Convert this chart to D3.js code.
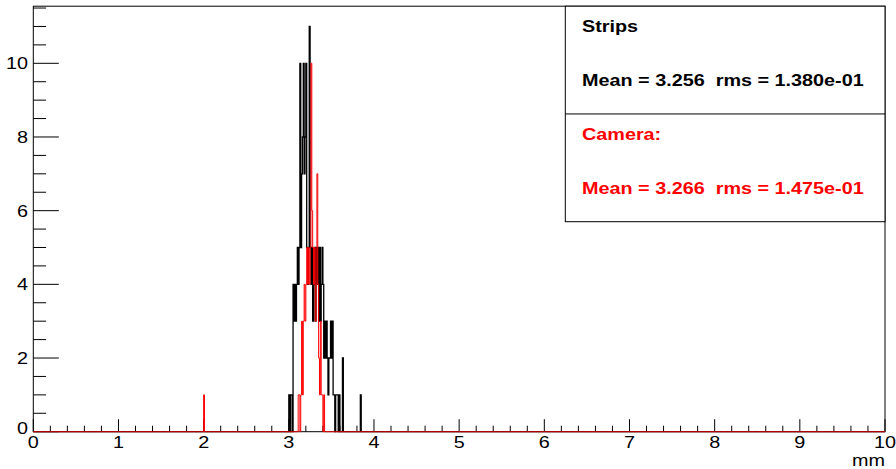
<!DOCTYPE html>
<html>
<head>
<meta charset="utf-8">
<script src="https://cdn.jsdelivr.net/npm/d3@7"></script>
<style>
  html, body { margin: 0; padding: 0; background: #fff; }
  svg { display: block; font-family: "Liberation Sans", Arial, Helvetica, sans-serif; }
  text { white-space: pre; }
</style>
</head>
<body>
<svg id="chart" width="896" height="469"></svg>
<script>
// histogram binning (1000 bins of 0.01 mm on 0..10)
const xMin = 0, xMax = 10, binWidth = 0.01;
const yMax = 11.55;

// Strips: counts per bin starting at 3.00 mm
const stripsFirstBin = 3.00;
const stripsCounts = [
  1, 0, 1, 1, 0, 4, 3, 4, 3, 4,
  5, 4, 5, 10, 5, 7, 8, 10, 7, 8,
  10, 5, 4, 5, 11, 5, 4, 5, 3, 4,
  5, 3, 5, 4, 5, 3, 5, 3, 4, 5,
  4, 2, 3, 2, 3, 2, 1, 2, 2, 3,
  2, 3, 1, 1, 0, 1, 1, 1, 0, 1,
  0, 0, 0, 2, 0, 0, 0, 0, 0, 0,
  0, 0, 0, 0, 0, 0, 0, 0, 0, 0,
  0, 0, 0, 0, 1
];

// Camera: counts per bin starting at 3.11 mm, plus one entry at 2.00 mm
const cameraFirstBin = 3.11;
const cameraCounts = [
  1, 1, 0, 1, 3, 1, 3, 4, 3, 4,
  5, 4, 5, 4, 5, 10, 6, 5, 4, 5,
  3, 4, 7, 4, 2, 1, 3, 1, 1, 0,
  1
];
const cameraExtraBins = [2.00];
const cameraExtraCounts = [1];

const xTicks = [0, 1, 2, 3, 4, 5, 6, 7, 8, 9, 10];
const yTicks = [0, 2, 4, 6, 8, 10];
const legendTitles = ["Strips", "Camera:"];
const legendStats = ["Mean = 3.256  rms = 1.380e-01", "Mean = 3.266  rms = 1.475e-01"];
const legendColors = ["#000000", "#ff0000"];
const xTitle = "mm";

const SX = 1.2;        // horizontal stretch of the original picture
const FONT = 16.5;

const svg = d3.select('#chart');

const x = d3.scaleLinear().domain([xMin, xMax]).range([33.3, 885]);
const y = d3.scaleLinear().domain([0, yMax]).range([431.7, 6.2]);

const nBins = Math.round((xMax - xMin) / binWidth);

// build full arrays of bin contents
function fillBins(first, counts, extraBins, extraCounts) {
  const full = new Array(nBins).fill(0);
  const i0 = Math.round((first - xMin) / binWidth);
  counts.forEach((c, k) => { full[i0 + k] = c; });
  (extraBins || []).forEach((b, k) => { full[Math.round((b - xMin) / binWidth)] += extraCounts[k]; });
  return full;
}
const strips = fillBins(stripsFirstBin, stripsCounts);
const camera = fillBins(cameraFirstBin, cameraCounts, cameraExtraBins, cameraExtraCounts);

function stepPoints(full) {
  const pts = [];
  full.forEach((c, i) => {
    pts.push([xMin + i * binWidth, c]);
    pts.push([xMin + (i + 1) * binWidth, c]);
  });
  return pts;
}

const line = d3.line().x(d => x(d[0])).y(d => y(d[1]));

// frame
svg.append('rect')
  .attr('x', x(xMin)).attr('y', y(yMax))
  .attr('width', x(xMax) - x(xMin)).attr('height', y(0) - y(yMax))
  .attr('fill', 'none').attr('stroke', '#000').attr('stroke-width', 1);

// y ticks (inside the frame)
const yMinor = d3.range(0, yMax + 1e-9, 0.5);
svg.append('g').selectAll('line').data(yMinor).join('line')
  .attr('x1', x(xMin)).attr('x2', d => x(xMin) + (d % 2 === 0 ? 25.5 : 12.8))
  .attr('y1', d => y(d)).attr('y2', d => y(d))
  .attr('stroke', '#000').attr('stroke-width', 1);

// x ticks (inside the frame)
const xMinor = d3.range(0, 50 + 1).map(k => k * 0.2);
svg.append('g').selectAll('line').data(xMinor).join('line')
  .attr('x1', d => x(d)).attr('x2', d => x(d))
  .attr('y1', y(0)).attr('y2', (d, i) => y(0) - (i % 5 === 0 ? 12.5 : 6))
  .attr('stroke', '#000').attr('stroke-width', 1);

function label(px, py, txt, anchor, opts) {
  const o = opts || {};
  svg.append('text')
    .attr('transform', `translate(${px},${py}) scale(${SX},1)`)
    .attr('text-anchor', anchor)
    .attr('xml:space', 'preserve')
    .attr('fill', o.color || '#000')
    .style('font-size', (o.size || FONT) + 'px')
    .style('font-weight', o.bold ? 'bold' : 'normal')
    .text(txt);
}

yTicks.forEach(v => label(28, y(v) + 6 - (v === 0 ? 4 : 0), String(v), 'end'));
xTicks.forEach(v => label(x(v), 448, String(v), 'middle'));
label(885, 466, xTitle, 'end');

// histograms: strips first, camera on top
svg.append('path').datum(stepPoints(strips)).attr('d', line)
  .attr('fill', 'none').attr('stroke', '#000').attr('stroke-width', 1.3);
svg.append('path').datum(stepPoints(camera)).attr('d', line)
  .attr('fill', 'none').attr('stroke', '#ff0000').attr('stroke-width', 1);

// stats legend
const lx0 = 565.3, lx1 = 885, ly0 = 6.2, ly1 = 221.7;
const rowH = (ly1 - ly0) / 2;
svg.append('rect').attr('x', lx0).attr('y', ly0).attr('width', lx1 - lx0).attr('height', ly1 - ly0)
  .attr('fill', '#fff').attr('stroke', '#000').attr('stroke-width', 1);
svg.append('line').attr('x1', lx0).attr('x2', lx1).attr('y1', ly0 + rowH).attr('y2', ly0 + rowH)
  .attr('stroke', '#000').attr('stroke-width', 1);
legendTitles.forEach((t, i) => {
  const top = ly0 + i * rowH;
  label(582, top + 26, t, 'start', { bold: true, color: legendColors[i] });
  label(582, top + 80, legendStats[i], 'start', { bold: true, color: legendColors[i] });
});
</script>
</body>
</html>
